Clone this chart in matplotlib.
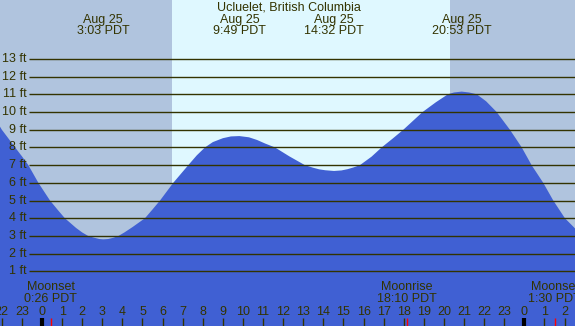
import matplotlib
matplotlib.use("Agg")
import matplotlib.pyplot as plt
from matplotlib.transforms import blended_transform_factory

# ---- data ----
title = "Ucluelet, British Columbia"
tide_hours = [-2.09, -2.0, -1.7, -1.34, -1.0, -0.68, -0.18, 0.40, 0.8, 1.14, 1.7, 2.0, 2.30,
              2.6, 2.85, 3.05, 3.3, 3.55, 3.80, 4.1, 4.5, 5.12, 5.5, 5.87, 6.53, 7.28, 7.7,
              8.11, 8.5, 9.0, 9.4, 9.82, 10.3, 10.7, 11.1, 11.59, 12.3, 13.08, 13.5, 13.8,
              14.1, 14.53, 14.9, 15.2, 15.5, 15.82, 16.4, 16.9, 17.45, 17.98, 18.94, 19.6,
              20.2, 20.5, 20.88, 21.25, 21.63, 22.1, 22.62, 23.28, 23.87, 24.36, 24.94,
              25.44, 26.02, 26.52]
tide_heights = [9.17, 9.0, 8.55, 8.0, 7.5, 7.0, 6.0, 5.0, 4.45, 4.0, 3.45, 3.2, 3.0,
                2.9, 2.83, 2.81, 2.83, 2.9, 3.0, 3.2, 3.5, 4.0, 4.5, 5.0, 6.0, 7.0, 7.55,
                8.0, 8.3, 8.52, 8.62, 8.64, 8.57, 8.42, 8.22, 8.0, 7.5, 7.0, 6.85, 6.76,
                6.71, 6.67, 6.70, 6.77, 6.87, 7.0, 7.48, 8.0, 8.5, 9.0, 10.0, 10.55,
                11.0, 11.1, 11.15, 11.1, 11.0, 10.6, 10.0, 9.0, 8.0, 7.0, 6.0,
                5.0, 4.0, 3.43]
extreme_hours = [3.05, 9.82, 14.53, 20.88]
extreme_labels = ["Aug 25\n3:03 PDT", "Aug 25\n9:49 PDT", "Aug 25\n14:32 PDT", "Aug 25\n20:53 PDT"]
sunrise_h = 6.47
sunset_h = 20.30
moon_hours = [0.433, 18.167, 25.5]
moon_labels = ["Moonset\n0:26 PDT", "Moonrise\n18:10 PDT", "Moonset\n1:30 PDT"]
ft_levels = list(range(1, 14))
hour_ticks = list(range(-2, 27))
hour_labels = [str(h % 24) for h in hour_ticks]
midnights = [0, 24]

# ---- style ----
W, H, DPI = 575, 326, 100
night_c = "#b0c4de"
day_c = "#dff8ff"
tide_c = "#4060d3"
ink = "#333300"
fs = 9
plt.rcParams["font.family"] = ["Liberation Sans", "DejaVu Sans"]

x0, x1 = -2.09, 26.52
y_bottom, y_top = -2.08, 16.32

fig = plt.figure(figsize=(W / DPI, H / DPI), dpi=DPI)
ax = fig.add_axes([0, 0, 1, 1])
ax.set_xlim(x0, x1)
ax.set_ylim(y_bottom, y_top)
ax.axis("off")

# backgrounds
ax.axvspan(x0, sunrise_h, color=night_c, lw=0, zorder=0)
ax.axvspan(sunrise_h, sunset_h, color=day_c, lw=0, zorder=0)
ax.axvspan(sunset_h, x1, color=night_c, lw=0, zorder=0)

# tide
ax.fill_between(tide_hours, tide_heights, y_bottom, color=tide_c, lw=0, zorder=1)

# horizontal lines and labels
tr = blended_transform_factory(ax.transAxes, ax.transData)
for v in ft_levels:
    ax.plot([29 / W, 1], [v, v], transform=tr, color=ink, lw=1.0, zorder=2,
            solid_capstyle="butt")
    ax.text(26.5 / W, v, f"{v} ft", transform=tr, ha="right", va="center",
            fontsize=fs, color=ink, zorder=3)

# title and extremes
ax.text(0.5025, 15.87, title, ha="center", va="center", fontsize=fs, color=ink,
        transform=tr, zorder=3)
for h, lab in zip(extreme_hours, extreme_labels):
    ax.text(h, 14.87, lab, ha="center", va="center", fontsize=fs, color=ink,
            linespacing=0.95, zorder=3)

# moon labels
for h, lab in zip(moon_hours, moon_labels):
    ax.text(h, -0.23, lab, ha="center", va="center", fontsize=fs, color=ink,
            linespacing=0.95, zorder=3)

# hour ticks & labels
for h, lab in zip(hour_ticks, hour_labels):
    ax.text(h, -1.29, lab, ha="center", va="center", fontsize=fs, color=ink, zorder=3)
    lw = 3.0 if h in midnights else 1.0
    ax.plot([h, h], [-1.64, y_bottom], color="black" if h in midnights else ink,
            lw=lw, zorder=3, solid_capstyle="butt")
for h in moon_hours:
    ax.plot([h, h], [-1.64, y_bottom], color="red", lw=1.0, zorder=3,
            solid_capstyle="butt")

fig.savefig("out.png", dpi=DPI)
